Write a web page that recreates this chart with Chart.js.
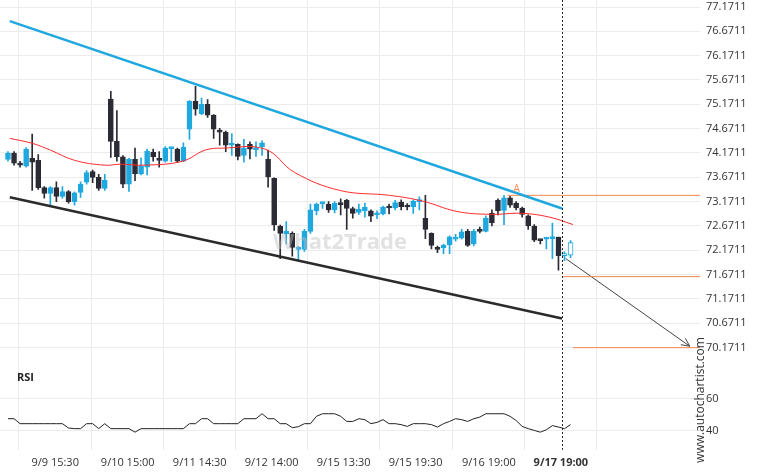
<!DOCTYPE html>
<html>
<head>
<meta charset="utf-8">
<script src="https://cdn.jsdelivr.net/npm/chart.js@4"></script>
<style>
  body { margin: 0; background: #fff; }
  #wrap { width: 760px; height: 475px; }
</style>
</head>
<body>
<div id="wrap"><canvas id="chart"></canvas></div>
<script>
// candles, index 0..93
var opens  = [74.04,74.17,73.96,73.90,74.06,74.02,73.46,73.34,73.46,73.28,73.38,73.17,73.36,73.57,73.79,73.67,73.44,75.28,74.41,74.09,
              73.53,74.04,73.74,73.88,74.19,74.06,74.00,74.26,74.25,74.00,74.66,75.23,74.98,75.17,74.95,74.64,74.60,74.33,74.35,74.12,
              74.35,74.24,74.30,74.04,73.65,72.67,72.51,72.52,72.19,72.19,72.56,72.98,73.13,73.12,73.00,73.13,73.20,73.03,72.95,72.98,
              72.98,72.90,72.92,73.06,73.04,73.16,73.07,73.06,73.17,72.83,72.52,72.22,72.22,72.28,72.40,72.42,72.56,72.30,72.59,72.56,
              72.93,73.20,72.99,73.25,73.14,73.04,72.88,72.67,72.39,72.40,72.41,72.44,72.06,72.07];
var highs  = [74.20,74.20,74.00,74.28,74.56,74.14,73.48,73.48,73.58,73.48,73.40,73.37,73.58,73.81,73.82,73.73,73.73,75.44,75.04,74.12,
              74.06,74.27,74.07,74.25,74.25,74.20,74.30,74.28,74.27,74.38,75.25,75.54,75.30,75.27,74.96,74.68,74.62,74.57,74.36,74.45,
              74.40,74.40,74.42,74.23,73.66,72.69,72.76,72.55,72.25,72.60,73.12,73.14,73.15,73.17,73.17,73.23,73.22,73.06,73.12,73.14,
              73.00,72.98,73.08,73.12,73.20,73.21,73.13,73.21,73.27,73.30,72.53,72.26,72.30,72.47,72.50,72.60,72.60,72.60,72.65,72.88,
              73.00,73.23,73.30,73.28,73.17,73.06,72.90,72.70,72.39,72.43,72.73,72.44,72.14,72.37];
var lows   = [74.00,73.92,73.88,73.88,73.40,73.42,73.24,73.10,73.17,73.24,73.14,73.10,73.26,73.53,73.56,73.40,73.40,74.08,74.00,73.46,
              73.38,73.60,73.72,73.72,74.00,73.88,73.98,73.99,73.97,73.99,74.45,74.95,74.96,74.90,74.47,74.33,74.20,74.12,74.03,73.98,
              74.05,74.10,74.12,73.47,72.58,72.00,72.30,72.05,71.95,72.15,72.52,72.90,73.03,72.95,72.94,72.90,72.60,72.83,72.91,72.85,
              72.76,72.82,72.90,72.92,73.00,73.00,73.00,72.93,73.00,72.41,72.20,72.12,72.10,72.10,72.36,72.40,72.25,72.26,72.53,72.55,
              72.67,72.90,72.70,73.05,73.00,72.85,72.60,72.35,72.30,72.20,72.00,71.76,71.96,72.02];
var closes = [74.17,73.96,73.92,74.25,73.98,73.46,73.34,73.46,73.28,73.38,73.17,73.35,73.53,73.77,73.67,73.44,73.61,74.41,74.09,73.53,
              74.04,73.74,73.90,74.21,74.09,74.02,74.27,74.27,74.00,74.29,75.23,75.07,75.17,74.95,74.66,74.60,74.33,74.35,74.10,74.27,
              74.25,74.26,74.38,73.68,72.69,72.52,72.56,72.23,72.20,72.56,73.00,73.12,73.15,73.00,73.14,73.11,73.03,72.93,73.02,73.06,
              72.87,72.92,73.06,73.04,73.15,73.07,73.06,73.18,73.19,72.60,72.27,72.19,72.28,72.45,72.42,72.55,72.27,72.56,72.56,72.83,
              72.74,72.98,73.25,73.10,73.04,72.91,72.67,72.38,72.37,72.42,72.43,72.06,72.10,72.33];
var hollowFrom = 92; // last candles still forming

// moving average (index, price)
var maIdx   = [0.3, 4, 7, 11, 16, 18.5, 22.6, 28.8, 32.6, 35.4, 42.5, 47.4, 54.9, 63.1, 68.6, 74.2, 79.7, 85.1, 89.6, 93.4];
var maVal   = [74.47,74.37,74.23,74.02,73.92,73.94,73.92,74.00,74.23,74.27,74.25,73.77,73.40,73.30,73.18,72.97,72.91,72.93,72.85,72.70];

// rsi per candle
var rsi = [47.5,47.5,44.4,44.4,44.4,44.4,44.4,44.4,44.4,44.4,41.7,41.3,41.3,44.4,44.4,41.3,44.4,41.3,41.3,41.3,
           41.3,39.1,41.3,41.3,41.3,41.3,41.3,41.3,41.3,41.3,44.4,44.4,47.5,47.5,44.4,44.4,44.4,44.4,44.4,47.5,
           47.5,47.5,50.6,47.5,47.5,44.4,44.4,41.9,42.5,44.4,44.4,49.0,50.6,50.6,50.6,49.0,45.8,45.8,47.5,46.9,
           44.4,45.2,46.9,44.4,44.4,43.8,42.7,44.4,44.4,44.4,43.8,42.3,44.4,45.8,47.5,46.9,45.8,47.5,48.5,50.6,
           50.6,50.6,50.6,49.0,46.4,42.7,41.3,40.2,39.1,40.6,43.2,42.3,41.3,43.8];

// pattern lines
var upperLine = [[0.3, 76.88], [91.6, 73.03]];
var lowerLine = [[0.3, 73.26], [91.6, 70.77]];
var levelA = [[82.6, 73.30], [114.4, 73.30]];
var level1 = [[91.6, 71.63], [114.4, 71.63]];
var level2 = [[93.4, 70.17], [114.4, 70.17]];
var forecast = [[92.2, 72.00], [112.7, 70.20]];
var markerIdx = 91.6;

var tickIdx = [7.8, 19.8, 31.7, 43.6, 55.5, 67.4, 79.5, 91.4];
var tickLabels = ["9/9 15:30", "9/10 15:00", "9/11 14:30", "9/12 14:00", "9/15 13:30", "9/15 19:30", "9/16 19:00", "9/17 19:00"];
var priceTicks = [77.1711,76.6711,76.1711,75.6711,75.1711,74.6711,74.1711,73.6711,73.1711,72.6711,72.1711,71.6711,71.1711,70.6711,70.1711];
var rsiTicks = [40, 60];

var UP = "#1fa8e0", DOWN = "#2b2b36";

function pts(arr){ return arr.map(function(p){ return {x: p[0], y: p[1]}; }); }

var wicks = [], bodies = [], bodyColors = [], bodyFill = [], wickColors = [];
for (var i = 0; i < opens.length; i++) {
    var up = closes[i] >= opens[i];
    var c = up ? UP : DOWN;
    wicks.push({x: i, y: [lows[i], highs[i]]});
    bodies.push({x: i, y: [opens[i], closes[i]]});
    wickColors.push(c);
    bodyColors.push(c);
    bodyFill.push(i >= hollowFrom ? "#ffffff" : c);
}

var overlay = {
    id: "overlay",
    afterDatasetsDraw: function(chart){
        var ctx = chart.ctx, x = chart.scales.x, y = chart.scales.y, area = chart.chartArea;
        ctx.save();
        // marker line
        var mx = Math.round(x.getPixelForValue(markerIdx)) + 0.5;
        ctx.strokeStyle = "#222"; ctx.lineWidth = 1; ctx.setLineDash([2, 2]);
        ctx.beginPath(); ctx.moveTo(mx, 0); ctx.lineTo(mx, area.bottom); ctx.stroke();
        ctx.setLineDash([]);
        // arrow head
        var x1 = x.getPixelForValue(forecast[0][0]), y1 = y.getPixelForValue(forecast[0][1]);
        var x2 = x.getPixelForValue(forecast[1][0]), y2 = y.getPixelForValue(forecast[1][1]);
        var a = Math.atan2(y2 - y1, x2 - x1);
        ctx.strokeStyle = "#444";
        ctx.beginPath();
        ctx.moveTo(x2 - 9 * Math.cos(a - 0.45), y2 - 9 * Math.sin(a - 0.45));
        ctx.lineTo(x2, y2);
        ctx.lineTo(x2 - 9 * Math.cos(a + 0.45), y2 - 9 * Math.sin(a + 0.45));
        ctx.stroke();
        // "A" marker
        ctx.fillStyle = "#f5894f"; ctx.font = "10px 'Open Sans'"; ctx.textAlign = "center";
        ctx.fillText("A", x.getPixelForValue(84.1), y.getPixelForValue(73.30) - 3);
        // labels
        ctx.fillStyle = "rgba(190,190,190,0.45)"; ctx.font = "bold 22px 'Open Sans'";
        ctx.fillText("What2Trade", 340, 249);
        ctx.fillStyle = "#222"; ctx.font = "bold 11px 'Open Sans'"; ctx.textAlign = "left";
        ctx.fillText("RSI", 17, 381);
        ctx.translate(704, 400); ctx.rotate(-Math.PI / 2);
        ctx.fillStyle = "#333"; ctx.font = "12px 'Open Sans'"; ctx.textAlign = "center";
        ctx.fillText("www.autochartist.com", 0, 0);
        ctx.restore();
    }
};

function lineDs(data, color, width, extra){
    var d = {type: "line", data: pts(data), borderColor: color, borderWidth: width,
             pointRadius: 0, fill: false, yAxisID: "y", order: 0};
    for (var k in extra) d[k] = extra[k];
    return d;
}

function noPad(s){ s.width = 60; s.paddingTop = 0; s.paddingBottom = 0; }

new Chart(document.getElementById("chart"), {
    type: "bar",
    data: {
        datasets: [
            {data: wicks, backgroundColor: wickColors, barThickness: 1, grouped: false, yAxisID: "y", order: 3},
            {data: bodies, backgroundColor: bodyFill, borderColor: bodyColors, borderWidth: 1, borderSkipped: false,
             barThickness: 5, grouped: false, minBarLength: 2, yAxisID: "y", order: 2},
            lineDs(maIdx.map(function(v, k){ return [v, maVal[k]]; }), "#ff2a2a", 1, {tension: 0.4}),
            lineDs(upperLine, "#1fa8e0", 2.5),
            lineDs(lowerLine, "#2b2b2b", 2.5),
            lineDs(levelA, "#f5894f", 1),
            lineDs(level1, "#f5894f", 1),
            lineDs(level2, "#f5894f", 1),
            lineDs(forecast, "#444", 1),
            {type: "line", data: rsi.map(function(v, k){ return {x: k, y: v}; }), borderColor: "#222", borderWidth: 1,
             pointRadius: 0, fill: false, yAxisID: "y2", order: 0}
        ]
    },
    options: {
        responsive: true,
        maintainAspectRatio: false,
        animation: false,
        layout: {padding: 0},
        plugins: {legend: {display: false}, tooltip: {enabled: false}},
        scales: {
            x: {
                type: "linear", min: -1.32, max: 114.4, offset: false,
                grid: {color: "#ececec", drawTicks: false},
                border: {display: false},
                afterBuildTicks: function(s){ s.ticks = tickIdx.map(function(v){ return {value: v}; }); },
                ticks: {
                    padding: 6, color: "#333", maxRotation: 0, autoSkip: false,
                    font: function(c){ return {family: "'Open Sans'", size: 11, weight: c.index === 7 ? "bold" : "normal"}; },
                    callback: function(v, idx){ return tickLabels[idx]; }
                }
            },
            y: {
                position: "right", stack: "p", stackWeight: 365, min: 69.80, max: 77.315,
                grid: {color: "#ececec", drawTicks: false},
                border: {display: false},
                afterBuildTicks: function(s){ s.ticks = priceTicks.map(function(v){ return {value: v}; }); },
                afterFit: noPad,
                ticks: {padding: 6, color: "#333", autoSkip: false, font: {family: "'Open Sans'", size: 11},
                        callback: function(v){ return v.toFixed(4); }}
            },
            y2: {
                position: "right", stack: "p", stackWeight: 84, min: 28.1, max: 80.6,
                grid: {color: "#ececec", drawTicks: false},
                border: {display: false},
                afterBuildTicks: function(s){ s.ticks = rsiTicks.map(function(v){ return {value: v}; }); },
                afterFit: noPad,
                ticks: {padding: 6, color: "#333", autoSkip: false, font: {family: "'Open Sans'", size: 11}}
            }
        }
    },
    plugins: [overlay]
});
</script>
</body>
</html>
